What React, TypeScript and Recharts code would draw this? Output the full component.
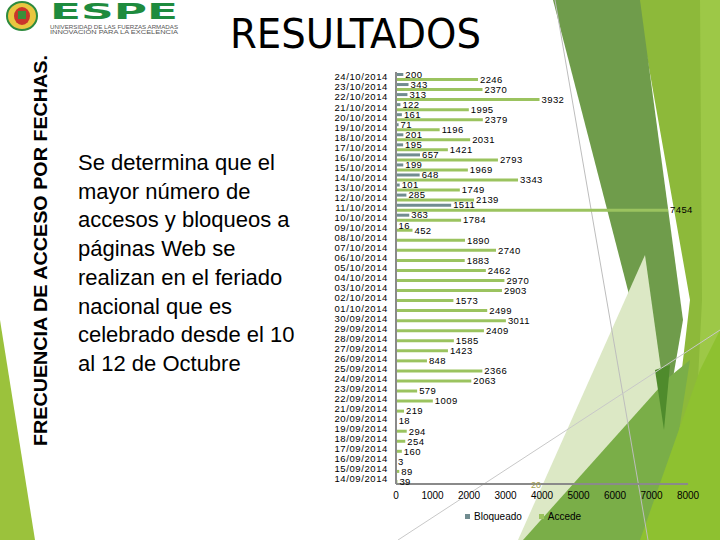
import React from 'react';
import { BarChart, Bar, XAxis, YAxis, LabelList, Legend } from 'recharts';

const dates = [
  '24/10/2014', '23/10/2014', '22/10/2014', '21/10/2014', '20/10/2014', '19/10/2014',
  '18/10/2014', '17/10/2014', '16/10/2014', '15/10/2014', '14/10/2014', '13/10/2014',
  '12/10/2014', '11/10/2014', '10/10/2014', '09/10/2014', '08/10/2014', '07/10/2014',
  '06/10/2014', '05/10/2014', '04/10/2014', '03/10/2014', '02/10/2014', '01/10/2014',
  '30/09/2014', '29/09/2014', '28/09/2014', '27/09/2014', '26/09/2014', '25/09/2014',
  '24/09/2014', '23/09/2014', '22/09/2014', '21/09/2014', '20/09/2014', '19/09/2014',
  '18/09/2014', '17/09/2014', '16/09/2014', '15/09/2014', '14/09/2014',
];

const bloqueado: (number | null)[] = [
  200, 343, 313, 122, 161, 71, 201, 195, 657, 199, 648, 101, 285, 1511, 363, 16,
  null, null, null, null, null, null, null, null, null, null, null, null, null,
  null, null, null, null, null, null, null, null, null, null, null, null,
];

const accede: number[] = [
  2246, 2370, 3932, 1995, 2379, 1196, 2031, 1421, 2793, 1969, 3343, 1749, 2139, 7454,
  1784, 452, 1890, 2740, 1883, 2462, 2970, 2903, 1573, 2499, 3011, 2409, 1585, 1423,
  848, 2366, 2063, 579, 1009, 219, 18, 294, 254, 160, 3, 89, 39,
];

const xTicks = [0, 1000, 2000, 3000, 4000, 5000, 6000, 7000, 8000];

const seriesNames = ['Bloqueado', 'Accede'];
const B_COLOR = '#718C90';
const A_COLOR = '#9BC35F';
const FONT = '"Liberation Sans", Arial, sans-serif';

const data = dates.map((d, i) => ({ date: d, bloqueado: bloqueado[i], accede: accede[i] }));

const renderLabel = (props: any) => {
  const { value } = props;
  if (value === null || value === undefined) return null;
  const vb = props.viewBox || {};
  const x = props.x ?? vb.x ?? 0;
  const y = props.y ?? vb.y ?? 0;
  const w = props.width ?? vb.width ?? 0;
  const h = props.height ?? vb.height ?? 0;
  return (
    <text x={x + w + 2} y={y + h / 2} dy={3.3} fontSize={9.5} letterSpacing={0.4} fill="#000" fontFamily={FONT}>
      {value}
    </text>
  );
};

const LegendContent = () => (
  <div style={{ display: 'flex', alignItems: 'center', fontSize: 10, fontFamily: FONT, color: '#000', whiteSpace: 'nowrap' }}>
    <span style={{ display: 'inline-block', width: 5, height: 5, background: B_COLOR, marginRight: 4 }} />
    {seriesNames[0]}
    <span style={{ display: 'inline-block', width: 5, height: 5, background: A_COLOR, marginLeft: 17, marginRight: 4 }} />
    {seriesNames[1]}
  </div>
);

const paragraph = [
  'Se determina que el',
  'mayor número de',
  'accesos y bloqueos a',
  'páginas Web se',
  'realizan en el feriado',
  'nacional que es',
  'celebrado desde el 10',
  'al 12 de Octubre',
];

export default function App() {
  return (
    <div style={{ position: 'absolute', left: 0, top: 0, width: 720, height: 540, background: '#fff', overflow: 'hidden' }}>
      {/* background decoration */}
      <svg width={720} height={540} style={{ position: 'absolute', left: 0, top: 0 }}>
        <polygon points="0,320 35,540 0,540" fill="#9BC23C" />
        <polygon points="637,0 720,0 720,540 650,540 676,420 690,300" fill="#8DB93A" />
        <polygon points="700,0 720,0 720,540 690,540 702,300" fill="#9DC847" />
        <polygon points="553,0 640,0 683,320 664,430" fill="#6F9C4B" />
        <polygon points="645,255 668,420 600,540 518,540" fill="#DCE8C5" />
        <polygon points="523,540 668,378 690,360 662,540" fill="#7AAE48" />
        <polygon points="655,370 670,365 664,430" fill="#4F8B2C" />
        <polygon points="640,540 700,370 720,330 720,540" fill="#8EC130" />
        <line x1={555} y1={0} x2={648} y2={540} stroke="#BDBDBD" strokeWidth={1} />
        <line x1={398} y1={540} x2={720} y2={330} stroke="#C8C8C8" strokeWidth={1} />
      </svg>

      <div style={{ position: 'absolute', left: 0, top: 0 }}>
        <BarChart
          width={720}
          height={540}
          data={data}
          layout="vertical"
          margin={{ top: 72, right: 32, bottom: 26, left: 316 }}
          barSize={3}
          barGap={2}
        >
          <XAxis
            type="number"
            domain={[0, 8000]}
            ticks={xTicks}
            height={30}
            tickLine={false}
            axisLine={{ stroke: '#8A8A8A', strokeWidth: 2 }}
            tick={{ fontSize: 10, fill: '#000', fontFamily: FONT }}
            interval={0}
          />
          <YAxis
            type="category"
            dataKey="date"
            width={80}
            interval={0}
            tickLine={false}
            axisLine={{ stroke: '#8A8A8A', strokeWidth: 2 }}
            tick={{ fontSize: 9.5, fill: '#000', fontFamily: FONT, letterSpacing: 0.6 }}
          />
          <Legend
            layout="horizontal"
            verticalAlign="middle"
            align="center"
            wrapperStyle={{ top: 511, left: 465, width: 140 }}
            content={LegendContent}
          />
          <Bar dataKey="bloqueado" name={seriesNames[0]} fill={B_COLOR} isAnimationActive={false}>
            <LabelList dataKey="bloqueado" content={renderLabel} />
          </Bar>
          <Bar dataKey="accede" name={seriesNames[1]} fill={A_COLOR} isAnimationActive={false}>
            <LabelList dataKey="accede" content={renderLabel} />
          </Bar>
        </BarChart>
      </div>

      {/* foreground text */}
      <svg width={720} height={540} style={{ position: 'absolute', left: 0, top: 0, pointerEvents: 'none' }}>
        {/* logo */}
        <ellipse cx={22} cy={16} rx={15} ry={14} fill="#E9C640" stroke="#2E8B3E" strokeWidth={2} />
        <ellipse cx={22} cy={16} rx={8} ry={9} fill="#C9352B" />
        <rect x={18} y={11} width={8} height={8} fill="#3C8E3A" />
        <text x={50} y={19} fontSize={21} fontWeight={900} fill="#1E8B3E" fontFamily="DejaVu Sans" textLength={128} lengthAdjust="spacingAndGlyphs">ESPE</text>
        <text x={50} y={28.5} fontSize={4.5} fill="#555" fontFamily={FONT} textLength={128} lengthAdjust="spacingAndGlyphs">UNIVERSIDAD DE LAS FUERZAS ARMADAS</text>
        <text x={50} y={34} fontSize={4.5} fill="#555" fontFamily={FONT} textLength={128} lengthAdjust="spacingAndGlyphs">INNOVACIÓN PARA LA EXCELENCIA</text>
        {/* title */}
        <text x={230} y={48} fontSize={41} fill="#000" fontFamily='"DejaVu Sans Condensed", "DejaVu Sans", sans-serif' textLength={251} lengthAdjust="spacingAndGlyphs">RESULTADOS</text>
        {/* vertical label */}
        <text x={47} y={446} transform="rotate(-90 47 446)" fontSize={19} fontWeight="bold" fill="#000" fontFamily={FONT} textLength={391} lengthAdjust="spacingAndGlyphs">FRECUENCIA DE ACCESO POR FECHAS.</text>
        {/* stray label */}
        <text x={531} y={488} fontSize={9} fill="#A3A04E" fontFamily={FONT}>20</text>
      </svg>

      <div style={{ position: 'absolute', left: 78, top: 149, fontSize: 22, lineHeight: '28.7px', fontFamily: FONT, color: '#000', whiteSpace: 'nowrap' }}>
        {paragraph.map((l, i) => (
          <div key={i}>{l}</div>
        ))}
      </div>
    </div>
  );
}
